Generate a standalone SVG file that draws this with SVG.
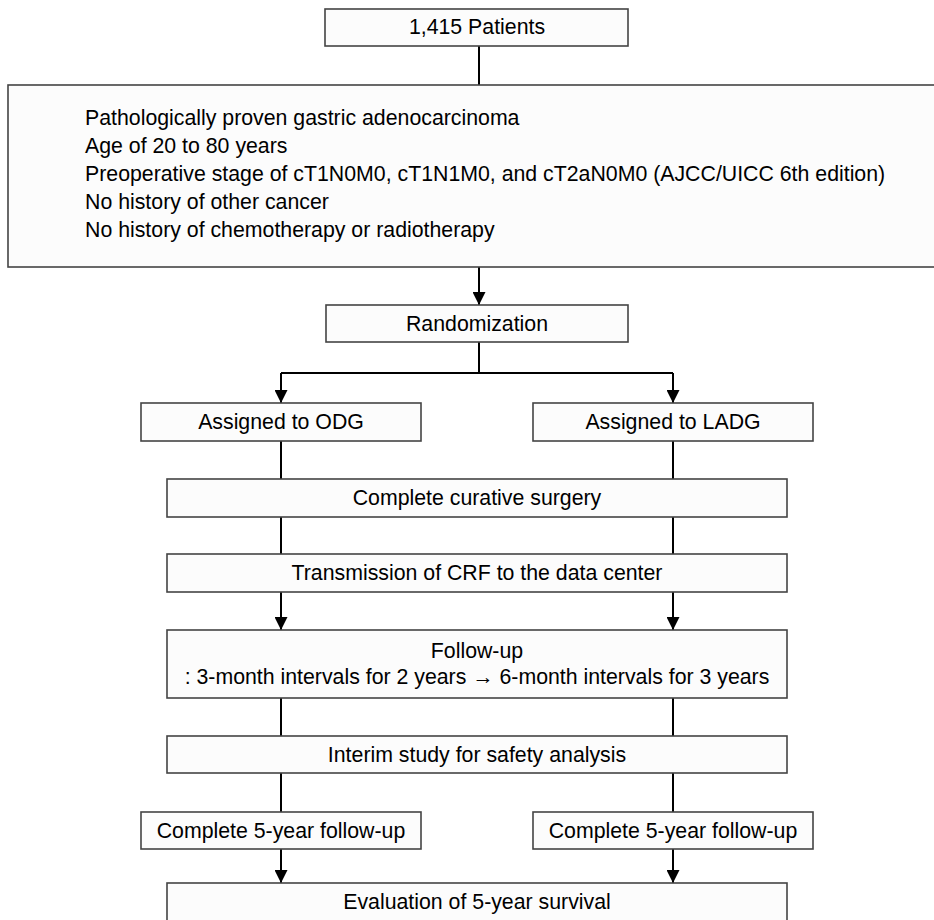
<svg xmlns="http://www.w3.org/2000/svg" width="934" height="920" viewBox="0 0 934 920">
<defs>
<style>
.box{fill:#fcfcfc;stroke:#444;stroke-width:1.6}
.t{font-family:"Liberation Sans",Arial,sans-serif;font-size:21.3px;fill:#000}
.c{text-anchor:middle}
.ln{fill:none;stroke:#000;stroke-width:2}
</style>
<marker id="ah" markerUnits="userSpaceOnUse" markerWidth="13" markerHeight="13" refX="13" refY="6.5" orient="auto" viewBox="0 0 13 13">
<path d="M0,0 L13,6.5 L0,13 z" fill="#000"/>
</marker>
</defs>
<rect width="934" height="920" fill="#fff"/>
<g id="connectors">
<path class="ln" d="M479,46 V85"/>
<path class="ln" d="M479,267 V305" marker-end="url(#ah)"/>
<path class="ln" d="M479,342 V373 M281,373 H673"/>
<path class="ln" d="M281,373 V403" marker-end="url(#ah)"/>
<path class="ln" d="M673,373 V403" marker-end="url(#ah)"/>
<path class="ln" d="M281,441 V479 M673,441 V479"/>
<path class="ln" d="M281,517 V554 M673,517 V554"/>
<path class="ln" d="M281,592 V630" marker-end="url(#ah)"/>
<path class="ln" d="M673,592 V630" marker-end="url(#ah)"/>
<path class="ln" d="M281,698 V736 M673,698 V736"/>
<path class="ln" d="M281,773 V812 M673,773 V812"/>
<path class="ln" d="M281,849 V883" marker-end="url(#ah)"/>
<path class="ln" d="M673,849 V883" marker-end="url(#ah)"/>
</g>
<g id="patients">
<rect class="box" x="325" y="9" width="303" height="37"/>
<text class="t c" x="477" y="34">1,415 Patients</text>
</g>
<g id="criteria">
<rect class="box" x="8" y="85" width="940" height="182"/>
<text class="t" x="85" y="125">Pathologically proven gastric adenocarcinoma</text>
<text class="t" x="85" y="153">Age of 20 to 80 years</text>
<text class="t" x="85" y="181">Preoperative stage of cT1N0M0, cT1N1M0, and cT2aN0M0 (AJCC/UICC 6th edition)</text>
<text class="t" x="85" y="209">No history of other cancer</text>
<text class="t" x="85" y="237">No history of chemotherapy or radiotherapy</text>
</g>
<g id="randomization">
<rect class="box" x="326" y="305" width="302" height="37"/>
<text class="t c" x="477" y="331">Randomization</text>
</g>
<g id="odg">
<rect class="box" x="141" y="403" width="280" height="38"/>
<text class="t c" x="281" y="429">Assigned to ODG</text>
</g>
<g id="ladg">
<rect class="box" x="533" y="403" width="280" height="38"/>
<text class="t c" x="673" y="429">Assigned to LADG</text>
</g>
<g id="surgery">
<rect class="box" x="167" y="479" width="620" height="38"/>
<text class="t c" x="477" y="505">Complete curative surgery</text>
</g>
<g id="transmission">
<rect class="box" x="167" y="554" width="620" height="38"/>
<text class="t c" x="477" y="580">Transmission of CRF to the data center</text>
</g>
<g id="followup">
<rect class="box" x="167" y="630" width="620" height="68"/>
<text class="t c" x="477" y="658">Follow-up</text>
<text class="t c" x="477" y="684">: 3-month intervals for 2 years → 6-month intervals for 3 years</text>
</g>
<g id="interim">
<rect class="box" x="167" y="736" width="620" height="37"/>
<text class="t c" x="477" y="762">Interim study for safety analysis</text>
</g>
<g id="complete5-left">
<rect class="box" x="141" y="812" width="280" height="37"/>
<text class="t c" x="281" y="838">Complete 5-year follow-up</text>
</g>
<g id="complete5-right">
<rect class="box" x="533" y="812" width="280" height="37"/>
<text class="t c" x="673" y="838">Complete 5-year follow-up</text>
</g>
<g id="evaluation">
<rect class="box" x="167" y="883" width="620" height="50"/>
<text class="t c" x="477" y="909">Evaluation of 5-year survival</text>
</g>
</svg>
